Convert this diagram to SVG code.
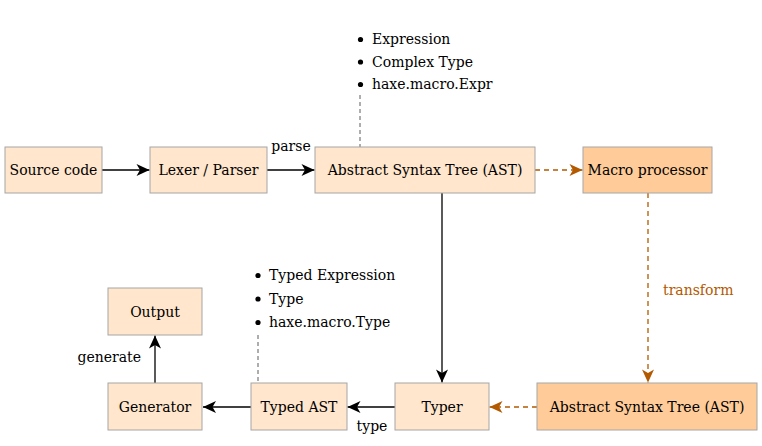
<svg xmlns="http://www.w3.org/2000/svg" width="762" height="446" viewBox="0 0 762 446">
<style>
text{font-family:'DejaVu Serif','Liberation Serif',serif;font-size:14px;fill:#000}
.c{text-anchor:middle}
.light{fill:#ffe6cc;stroke:#a6a6a6;stroke-width:1}
.dark{fill:#ffcc99;stroke:#a6a6a6;stroke-width:1}
.solid{fill:none;stroke:#000;stroke-width:1.3}
.orange{fill:none;stroke:#b35900;stroke-width:1.3;stroke-dasharray:5,4}
.note{fill:none;stroke:#333;stroke-width:0.8;stroke-dasharray:4,3}
.tr{fill:#b35900}
</style>
<defs>
<marker id="ab" viewBox="-14 -7 15 14" refX="0" refY="0" markerWidth="15" markerHeight="14" markerUnits="userSpaceOnUse" orient="auto">
<path d="M0,0 L-13,-6 L-9.5,0 L-13,6 Z" fill="#000"/>
</marker>
<marker id="ao" viewBox="-14 -7 15 14" refX="0" refY="0" markerWidth="15" markerHeight="14" markerUnits="userSpaceOnUse" orient="auto">
<path d="M0,0 L-13,-6 L-9.5,0 L-13,6 Z" fill="#b35900"/>
</marker>
</defs>
<g id="connectors">
<line class="solid" x1="102" y1="170" x2="149.5" y2="170" marker-end="url(#ab)"/>
<line class="solid" x1="267" y1="170" x2="314.5" y2="170" marker-end="url(#ab)"/>
<text x="291" y="151" text-anchor="middle">parse</text>
<line class="orange" x1="535" y1="170" x2="582.5" y2="170" marker-end="url(#ao)"/>
<line class="solid" x1="442" y1="193" x2="442" y2="382.5" marker-end="url(#ab)"/>
<line class="orange" x1="648" y1="193" x2="648" y2="382.5" marker-end="url(#ao)"/>
<text class="tr" x="663" y="295">transform</text>
<line class="orange" x1="537" y1="407" x2="489.5" y2="407" marker-end="url(#ao)"/>
<line class="solid" x1="395" y1="407" x2="347.5" y2="407" marker-end="url(#ab)"/>
<text x="372" y="431" text-anchor="middle">type</text>
<line class="solid" x1="251" y1="407" x2="203" y2="407" marker-end="url(#ab)"/>
<line class="solid" x1="155" y1="383" x2="155" y2="335.5" marker-end="url(#ab)"/>
<text x="141" y="362" text-anchor="end">generate</text>
<line class="note" x1="360" y1="95" x2="360" y2="147"/>
<line class="note" x1="258" y1="335" x2="258" y2="383"/>
</g>
<g id="note1">
<circle cx="360.5" cy="39.5" r="2.6"/>
<circle cx="360.5" cy="62" r="2.6"/>
<circle cx="360.5" cy="84.5" r="2.6"/>
<text x="372" y="44">Expression</text>
<text x="372" y="66.5">Complex Type</text>
<text x="372" y="89">haxe.macro.Expr</text>
</g>
<g id="note2">
<circle cx="258" cy="275.5" r="2.6"/>
<circle cx="258" cy="299" r="2.6"/>
<circle cx="258" cy="322.5" r="2.6"/>
<text x="269" y="280">Typed Expression</text>
<text x="269" y="303.5">Type</text>
<text x="269" y="327">haxe.macro.Type</text>
</g>
<g id="source"><rect class="light" x="5" y="147" width="97" height="46"/><text class="c" x="53.5" y="175">Source code</text></g>
<g id="lexer"><rect class="light" x="150" y="147" width="117" height="46"/><text class="c" x="208.5" y="175">Lexer / Parser</text></g>
<g id="ast"><rect class="light" x="315" y="147" width="220" height="46"/><text class="c" x="425" y="175">Abstract Syntax Tree (AST)</text></g>
<g id="macro"><rect class="dark" x="583" y="147" width="129" height="46"/><text class="c" x="647.5" y="175">Macro processor</text></g>
<g id="ast2"><rect class="dark" x="537" y="383" width="220" height="47"/><text class="c" x="647" y="412">Abstract Syntax Tree (AST)</text></g>
<g id="typer"><rect class="light" x="395" y="383" width="94" height="47"/><text class="c" x="442" y="412">Typer</text></g>
<g id="typedast"><rect class="light" x="251" y="383" width="96" height="47"/><text class="c" x="299" y="412">Typed AST</text></g>
<g id="generator"><rect class="light" x="108" y="383" width="94" height="47"/><text class="c" x="155" y="412">Generator</text></g>
<g id="output"><rect class="light" x="108" y="288" width="94" height="47"/><text class="c" x="155" y="317">Output</text></g>
</svg>
